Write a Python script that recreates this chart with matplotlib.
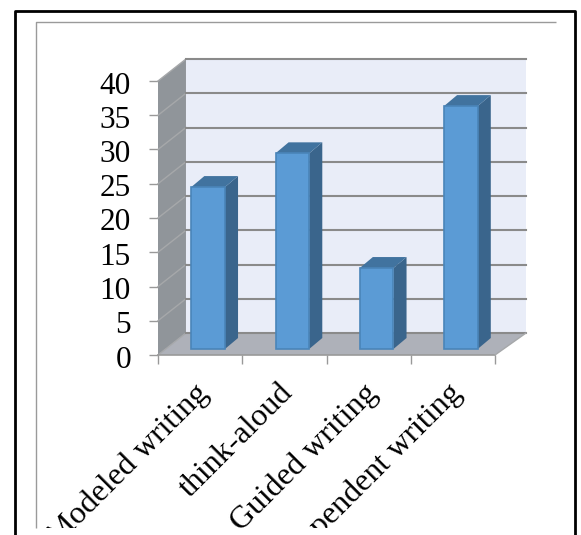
import matplotlib
matplotlib.use("Agg")
import matplotlib.pyplot as plt
from matplotlib.lines import Line2D
from matplotlib.patches import Polygon
from matplotlib.transforms import Bbox, TransformedBbox, ScaledTranslation
import numpy as np

categories = ["Modeled writing", "think-aloud", "Guided writing", "Independent writing"]
values = [24, 29, 12, 36]
y_ticks = [0, 5, 10, 15, 20, 25, 30, 35, 40]

W, H = 581, 535
DPI = 100

# 3D look, in data units
DEPTH_X = 0.332
DEPTH_X_RIGHT = 0.368
DEPTH_Y = 3.21
BAR_WIDTH = 0.40
BAR_SHIFT_X = 0.095
BAR_SHIFT_Y = 0.88
BAR_DEPTH_X = 0.155
BAR_DEPTH_Y = 1.6
BAR_SCALE = 0.985

plt.rcParams["font.family"] = ["Liberation Serif", "DejaVu Serif"]

fig = plt.figure(figsize=(W / DPI, H / DPI), dpi=DPI, facecolor="white")


def frame_line(xs, ys, color, lw):
    fig.add_artist(Line2D(np.array(xs) / W, 1 - np.array(ys) / H, color=color, lw=lw,
                          transform=fig.transFigure, solid_capstyle="butt"))


# outer black box and inner chart border, both open at the bottom
frame_line([14.5, 14.5, 575, 575], [H, 10.5, 10.5, H], "#000000", 2.0)
frame_line([36, 36, 556], [528, 22, 22], "#9a9a9a", 1.0)

ax = fig.add_axes([158 / W, 1 - 355 / H, (495 - 158) / W, (355 - 81) / H])
ax.set_xlim(0, 4)
ax.set_ylim(0, 40)
ax.patch.set_visible(False)
for spine in ax.spines.values():
    spine.set_visible(False)


def poly(points, face, edge="none", lw=0.0, z=1):
    ax.add_patch(Polygon(points, closed=True, facecolor=face, edgecolor=edge, lw=lw,
                         zorder=z, clip_on=False))


# back wall, side wall, floor
poly([(DEPTH_X, DEPTH_Y), (4 + DEPTH_X_RIGHT, DEPTH_Y), (4 + DEPTH_X_RIGHT, 40 + DEPTH_Y),
      (DEPTH_X, 40 + DEPTH_Y)], "#e9edf8")
poly([(0, 0), (DEPTH_X, DEPTH_Y), (DEPTH_X, 40 + DEPTH_Y), (0, 40)], "#90959a")
poly([(0, 0), (4, 0), (4 + DEPTH_X_RIGHT, DEPTH_Y), (DEPTH_X, DEPTH_Y)], "#aeb1b9")

# gridlines run along the side wall and across the back wall
for v in y_ticks:
    ax.plot([0, DEPTH_X], [v, v + DEPTH_Y], color="#a6a8aa", lw=1.0, zorder=2, clip_on=False)
    ax.plot([DEPTH_X, 4 + DEPTH_X_RIGHT], [v + DEPTH_Y, v + DEPTH_Y], color="#8a8a8a", lw=1.5,
            zorder=2, clip_on=False)
ax.plot([0, 4], [0, 0], color="#999999", lw=1.2, zorder=2, clip_on=False)
ax.plot([4, 4 + DEPTH_X_RIGHT], [0, DEPTH_Y], color="#a6a8aa", lw=1.0, zorder=2, clip_on=False)

# bars: side and top faces first, then the front face
positions = np.arange(len(values)) + 0.5 + BAR_SHIFT_X
heights = np.array(values) * BAR_SCALE
for x, h in zip(positions, heights):
    left = x - BAR_WIDTH / 2
    right = x + BAR_WIDTH / 2
    top = BAR_SHIFT_Y + h
    poly([(right, BAR_SHIFT_Y), (right + BAR_DEPTH_X, BAR_SHIFT_Y + BAR_DEPTH_Y),
          (right + BAR_DEPTH_X, top + BAR_DEPTH_Y), (right, top)], "#3a658c", z=3)
    poly([(left, top), (right, top), (right + BAR_DEPTH_X, top + BAR_DEPTH_Y),
          (left + BAR_DEPTH_X, top + BAR_DEPTH_Y)], "#41739f", z=3)
ax.bar(positions, heights, width=BAR_WIDTH, bottom=BAR_SHIFT_Y, color="#5b9bd5",
       edgecolor="#4a85b9", linewidth=1.2, zorder=4, clip_on=False)

# axes ticks and labels
ax.set_yticks(y_ticks)
ax.tick_params(axis="y", length=6.5, width=1.0, color="#999999", pad=13, labelsize=22.5,
               labelcolor="black")
ax.set_xticks(range(5))
ax.set_xticklabels([])
ax.tick_params(axis="x", which="major", length=6.5, width=1.0, color="#999999")
ax.set_xticks(np.arange(len(categories)) + 0.5, minor=True)
ax.set_xticklabels(categories, minor=True, rotation=45, ha="right", va="top",
                   rotation_mode="anchor", fontsize=23)
ax.tick_params(axis="x", which="minor", length=0, pad=17)

# nudge the y numbers down a little and the slanted names to the left
y_nudge = ScaledTranslation(0, -1.5 / DPI, fig.dpi_scale_trans)
for lbl in ax.get_yticklabels():
    lbl.set_transform(lbl.get_transform() + y_nudge)

# long category names get cut off by the chart area
clip = TransformedBbox(Bbox([[0, 1 - 528 / H], [1, 1]]), fig.transFigure)
x_nudge = ScaledTranslation(-6 / DPI, 0, fig.dpi_scale_trans)
for lbl in ax.get_xticklabels(minor=True):
    lbl.set_transform(lbl.get_transform() + x_nudge)
    lbl.set_clip_box(clip)
    lbl.set_clip_on(True)

fig.savefig("out.png", dpi=DPI)
